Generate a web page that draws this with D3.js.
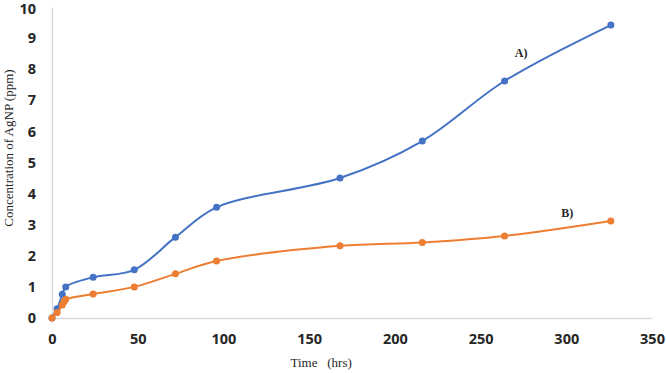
<!DOCTYPE html>
<html>
<head>
<meta charset="utf-8">
<script src="https://cdn.jsdelivr.net/npm/d3@7"></script>
<style>
  body { margin: 0; background: #fff; }
  svg { display: block; }
</style>
</head>
<body>
<div id="chart"></div>
<script>
// --------------------------------------
// Data
// --------------------------------------

const timeA = [0, 3, 6, 8, 24, 48, 72, 96, 168, 216, 264, 326];
const concA = [0, 0.3, 0.76, 1.0, 1.31, 1.55, 2.6, 3.56, 4.5, 5.69, 7.62, 9.42];

const timeB = [0, 3, 6, 7, 8, 24, 48, 72, 96, 168, 216, 264, 326];
const concB = [0, 0.18, 0.42, 0.52, 0.6, 0.77, 1.0, 1.42, 1.83, 2.32, 2.43, 2.64, 3.12];

const xTicks = [0, 50, 100, 150, 200, 250, 300, 350];
const yTicks = [0, 1, 2, 3, 4, 5, 6, 7, 8, 9, 10];

const seriesLabels = ["A)", "B)"];

// --------------------------------------
// Canvas
// --------------------------------------

const width = 666, height = 373;
const margin = { top: 7, right: 14, bottom: 55, left: 52 };
const innerwidth = width - margin.left - margin.right;
const innerheight = height - margin.top - margin.bottom;

const svg = d3.select("#chart")
  .append("svg")
    .attr("width", width)
    .attr("height", height)
    .attr("viewBox", [0, 0, width, height]);

const inner = svg.append("g")
    .attr("transform", `translate(${margin.left}, ${margin.top})`);

// --------------------------------------
// Scales
// --------------------------------------

const x = d3.scaleLinear([0, 350], [0, innerwidth]);
const y = d3.scaleLinear([0, 10], [innerheight, 0]);

// --------------------------------------
// Axes
// --------------------------------------

const tickFont = "'Open Sans', 'Liberation Sans', sans-serif";

const xAxis = inner.append("g")
    .attr("transform", `translate(0, ${innerheight})`)
    .call(d3.axisBottom(x).tickValues(xTicks).tickSize(0).tickPadding(16));

const yAxis = inner.append("g")
    .call(d3.axisLeft(y).tickValues(yTicks).tickSize(0).tickPadding(16));

[xAxis, yAxis].forEach(g => {
  g.select(".domain").attr("stroke", "#d9d9d9").attr("stroke-width", 1.5);
  g.selectAll("text")
    .attr("font-family", tickFont)
    .attr("font-weight", "bold")
    .attr("font-size", 14.5)
    .attr("fill", "#262626");
});

// keep the top tick label inside the picture
yAxis.selectAll(".tick")
  .filter(d => d === 10)
  .select("text")
    .attr("y", 2);

// axis titles
svg.append("text")
    .attr("x", margin.left + x(157))
    .attr("y", 367)
    .attr("text-anchor", "middle")
    .attr("font-family", "'Liberation Serif', serif")
    .attr("font-size", 13)
    .attr("fill", "#262626")
    .attr("xml:space", "preserve")
    .text("Time   (hrs)");

svg.append("text")
    .attr("transform", `translate(13, 148) rotate(-90)`)
    .attr("text-anchor", "middle")
    .attr("font-family", "'Liberation Serif', serif")
    .attr("font-size", 13)
    .attr("fill", "#262626")
    .text("Concentration  of AgNP (ppm)");

// --------------------------------------
// Lines and points
// --------------------------------------

const series = [
  { name: seriesLabels[0], color: "#4472C4", values: timeA.map((t, i) => [t, concA[i]]) },
  { name: seriesLabels[1], color: "#ED7D31", values: timeB.map((t, i) => [t, concB[i]]) }
];

const line = d3.line()
    .x(d => x(d[0]))
    .y(d => y(d[1]))
    .curve(d3.curveCatmullRom.alpha(0.5));

series.forEach(s => {
  inner.append("path")
      .attr("d", line(s.values))
      .attr("fill", "none")
      .attr("stroke", s.color)
      .attr("stroke-width", 2);

  inner.append("g")
    .selectAll("circle")
    .data(s.values)
    .join("circle")
      .attr("cx", d => x(d[0]))
      .attr("cy", d => y(d[1]))
      .attr("r", 3.5)
      .attr("fill", s.color);
});

// series labels
const labelPos = [[270, 8.4], [297, 3.25]];

inner.selectAll(".series-label")
  .data(series)
  .join("text")
    .attr("class", "series-label")
    .attr("x", (d, i) => x(labelPos[i][0]))
    .attr("y", (d, i) => y(labelPos[i][1]))
    .attr("font-family", "'Liberation Serif', serif")
    .attr("font-weight", "bold")
    .attr("font-size", 12)
    .attr("fill", "#262626")
    .text(d => d.name);
</script>
</body>
</html>
